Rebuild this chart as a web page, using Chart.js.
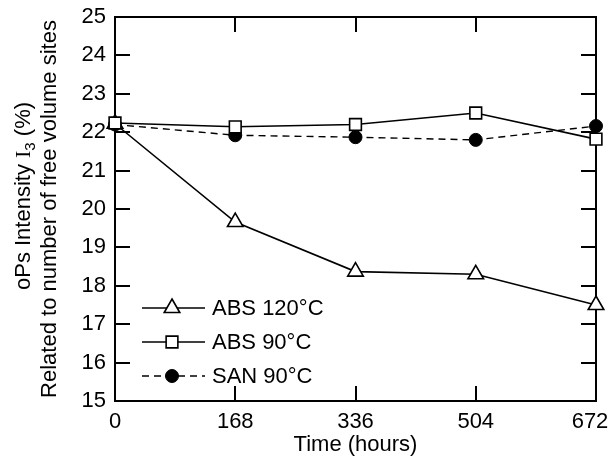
<!DOCTYPE html>
<html>
<head>
<meta charset="utf-8">
<script src="https://cdn.jsdelivr.net/npm/chart.js@4/dist/chart.umd.min.js"></script>
<style>
  html, body { margin: 0; padding: 0; background: #fff; }
  #wrap { width: 610px; height: 463px; position: relative; }
</style>
</head>
<body>
<div id="wrap"><canvas id="c" width="610" height="463"></canvas></div>
<script>
// Aging time (hours) and ortho-positronium intensity I3 (%)
const hours = [0, 168, 336, 504, 672];
const abs120 = [22.22, 19.66, 18.37, 18.3, 17.5];
const abs90 = [22.24, 22.14, 22.2, 22.5, 21.82];
const san90 = [22.2, 21.92, 21.87, 21.8, 22.16];
const seriesNames = ['ABS 120\u00B0C', 'ABS 90\u00B0C', 'SAN 90\u00B0C'];
const xTicks = [0, 168, 336, 504, 672];
const yRange = [15, 25];

const SANS = '"Liberation Sans", Arial, sans-serif';
const SERIF = '"Liberation Serif", "Times New Roman", serif';
const FS = 22;

const pts = (vals) => vals.map((v, i) => ({ x: hours[i], y: v }));

// Frame with inward tick marks on all four sides
const framePlugin = {
  id: 'frame',
  beforeDraw(chart) {
    // keep the last time label inside the canvas edge
    const x = chart.scales.x;
    const items = x.getLabelItems();
    if (items.length) {
      const last = items[items.length - 1];
      last.options.translation[0] = Math.min(last.options.translation[0], chart.width - 20);
    }
  },
  beforeDatasetsDraw(chart) {
    const { ctx, chartArea: a, scales: { x, y } } = chart;
    const L = 15;
    ctx.save();
    ctx.strokeStyle = '#000';
    ctx.lineWidth = 2;
    ctx.beginPath();
    ctx.rect(a.left, a.top, a.right - a.left, a.bottom - a.top);
    ctx.stroke();
    ctx.beginPath();
    y.ticks.forEach(t => {
      const py = Math.round(y.getPixelForValue(t.value));
      ctx.moveTo(a.left, py); ctx.lineTo(a.left + L, py);
      ctx.moveTo(a.right, py); ctx.lineTo(a.right - L, py);
    });
    x.ticks.forEach(t => {
      const px = Math.round(x.getPixelForValue(t.value));
      ctx.moveTo(px, a.bottom); ctx.lineTo(px, a.bottom - L);
      ctx.moveTo(px, a.top); ctx.lineTo(px, a.top + L);
    });
    ctx.stroke();
    ctx.restore();
  }
};

// Two-line rotated y-axis title with serif I and subscript 3
const yTitlePlugin = {
  id: 'ytitle',
  afterDraw(chart) {
    const { ctx } = chart;
    ctx.save();
    ctx.fillStyle = '#000';
    ctx.textBaseline = 'alphabetic';
    const parts = [
      { t: 'oPs Intensity ', f: `${FS}px ${SANS}`, dy: 0 },
      { t: 'I', f: `${FS}px ${SERIF}`, dy: 0 },
      { t: '3', f: `${Math.round(FS * 0.7)}px ${SANS}`, dy: 5 },
      { t: ' (%)', f: `${FS}px ${SANS}`, dy: 0 }
    ];
    let w = 0;
    parts.forEach(p => { ctx.font = p.f; p.w = ctx.measureText(p.t).width; w += p.w; });
    ctx.translate(30, 196);
    ctx.rotate(-Math.PI / 2);
    let xx = -w / 2;
    parts.forEach(p => { ctx.font = p.f; ctx.fillText(p.t, xx, p.dy); xx += p.w; });
    ctx.restore();

    ctx.save();
    ctx.fillStyle = '#000';
    ctx.font = `${FS}px ${SANS}`;
    ctx.textAlign = 'center';
    ctx.textBaseline = 'alphabetic';
    ctx.translate(56, 209);
    ctx.rotate(-Math.PI / 2);
    ctx.fillText('Related to number of free volume sites', 0, 0);
    ctx.restore();
  }
};

function drawMarker(ctx, style, r, x, y) {
  if (style === 'triangle') {
    ctx.moveTo(x, y - r);
    ctx.lineTo(x + r * Math.sin(2 * Math.PI / 3), y + r / 2);
    ctx.lineTo(x - r * Math.sin(2 * Math.PI / 3), y + r / 2);
    ctx.closePath();
  } else if (style === 'rect') {
    const s = r * Math.SQRT1_2;
    ctx.rect(x - s, y - s, 2 * s, 2 * s);
  } else {
    ctx.arc(x, y, r, 0, Math.PI * 2);
  }
}

// Legend inside the plot, lower left
const legendPlugin = {
  id: 'inlegend',
  afterDatasetsDraw(chart) {
    const { ctx } = chart;
    const rows = [308, 342, 376];
    const x0 = 142, x1 = 205, xm = 172, xt = 212;
    ctx.save();
    chart.data.datasets.forEach((ds, r) => {
      const yy = rows[r];
      ctx.strokeStyle = '#000';
      ctx.lineWidth = ds.borderWidth;
      ctx.setLineDash(ds.borderDash || []);
      ctx.beginPath();
      ctx.moveTo(x0, yy); ctx.lineTo(x1, yy);
      ctx.stroke();
      ctx.setLineDash([]);
      ctx.fillStyle = ds.pointBackgroundColor;
      ctx.strokeStyle = '#000';
      ctx.lineWidth = ds.pointBorderWidth;
      ctx.beginPath();
      drawMarker(ctx, ds.pointStyle, ds.pointRadius, xm, yy);
      ctx.fill(); ctx.stroke();
      ctx.fillStyle = '#000';
      ctx.font = `${FS}px ${SANS}`;
      ctx.textBaseline = 'middle';
      ctx.textAlign = 'left';
      ctx.fillText(ds.label, xt, yy + 1);
    });
    ctx.restore();
  }
};

const tickFont = { family: SANS, size: FS };

new Chart(document.getElementById('c'), {
  type: 'line',
  data: {
    datasets: [
      {
        label: seriesNames[0], data: pts(abs120), order: 1,
        borderColor: '#000', borderWidth: 1.6, pointStyle: 'triangle', pointRadius: 9,
        pointBackgroundColor: '#fff', pointBorderColor: '#000', pointBorderWidth: 1.6, clip: false
      },
      {
        label: seriesNames[1], data: pts(abs90), order: 0,
        borderColor: '#000', borderWidth: 1.6, pointStyle: 'rect', pointRadius: 8.3,
        pointBackgroundColor: '#fff', pointBorderColor: '#000', pointBorderWidth: 1.6, clip: false
      },
      {
        label: seriesNames[2], data: pts(san90), order: 2,
        borderColor: '#000', borderWidth: 1.4, borderDash: [7, 5], pointStyle: 'circle', pointRadius: 6.5,
        pointBackgroundColor: '#000', pointBorderColor: '#000', pointBorderWidth: 1, clip: false
      }
    ]
  },
  options: {
    responsive: false,
    animation: false,
    events: [],
    layout: { padding: { left: 0, right: 14, top: 17, bottom: 5 } },
    plugins: { legend: { display: false }, tooltip: { enabled: false } },
    scales: {
      x: {
        type: 'linear', min: 0, max: 672,
        afterBuildTicks(s) { s.ticks = xTicks.map(v => ({ value: v })); },
        ticks: { font: tickFont, color: '#000', padding: 8, maxRotation: 0, autoSkip: false },
        grid: { display: false, drawTicks: false },
        border: { display: false },
        title: { display: true, text: 'Time (hours)', font: tickFont, color: '#000', padding: 0 },
        afterFit(s) { s.height = 57; s.paddingLeft = s.paddingRight = s.paddingTop = s.paddingBottom = 0; }
      },
      y: {
        min: yRange[0], max: yRange[1],
        ticks: { stepSize: 1, font: tickFont, color: '#000', padding: 9 },
        grid: { display: false, drawTicks: false },
        border: { display: false },
        afterFit(s) { s.width = 115; s.paddingLeft = s.paddingRight = s.paddingTop = s.paddingBottom = 0; }
      }
    }
  },
  plugins: [framePlugin, legendPlugin, yTitlePlugin]
});
</script>
</body>
</html>
